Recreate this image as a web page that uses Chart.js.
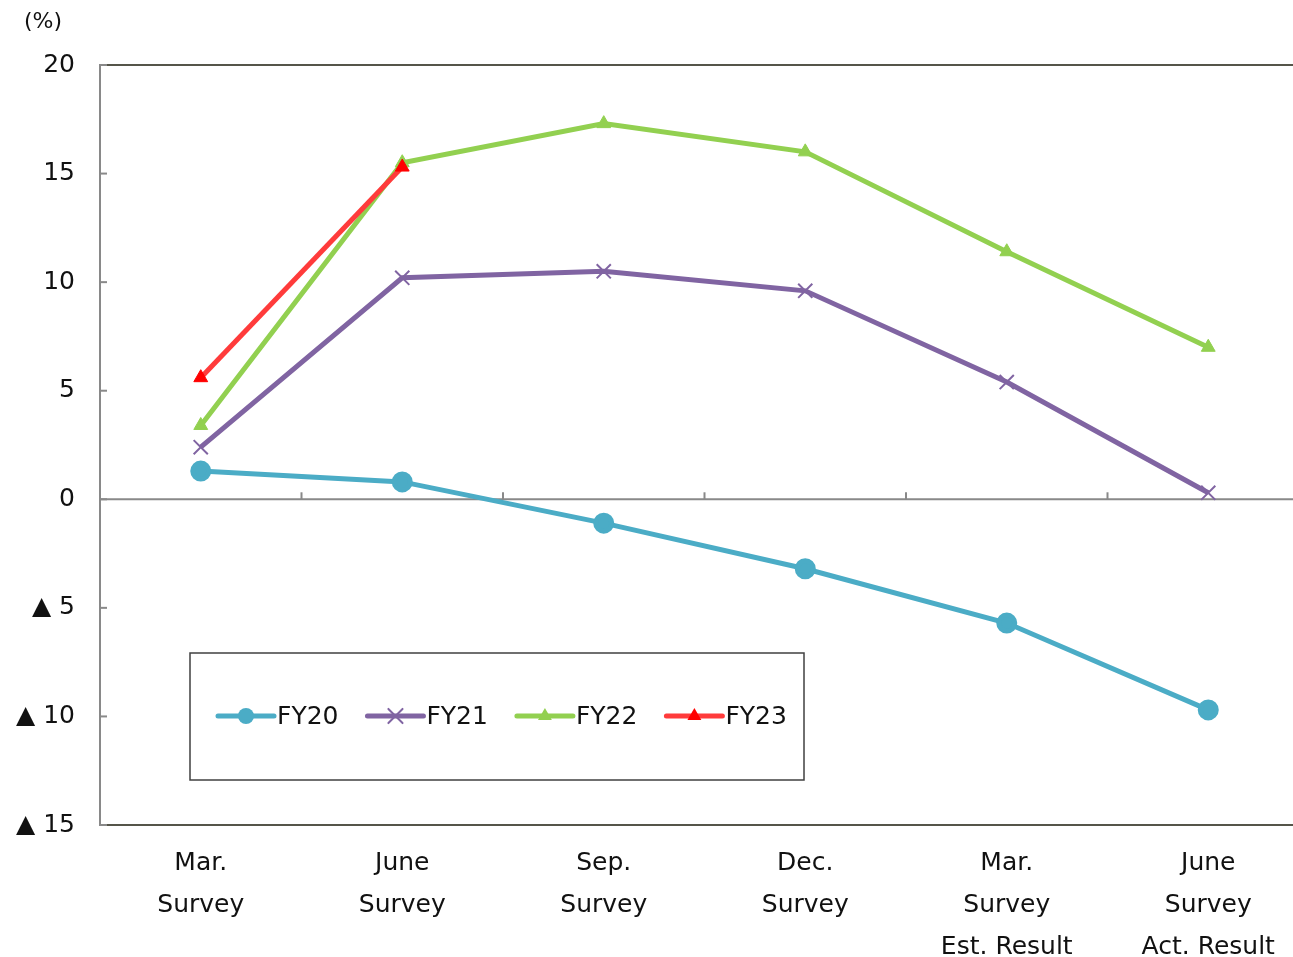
<!DOCTYPE html>
<html lang="en">
<head>
<meta charset="UTF-8" />
<title>Survey results</title>
<script src="https://cdn.jsdelivr.net/npm/chart.js"></script>
<style>
  html, body { margin: 0; padding: 0; background: #ffffff; overflow: hidden; }
  #wrap { position: relative; width: 1322px; height: 957px; }
</style>
</head>
<body>
<div id="wrap"><canvas id="chart" width="1322" height="957"></canvas></div>
<script>
  const categories = [
    ['Mar.', 'Survey'],
    ['June', 'Survey'],
    ['Sep.', 'Survey'],
    ['Dec.', 'Survey'],
    ['Mar.', 'Survey', 'Est. Result'],
    ['June', 'Survey', 'Act. Result'],
  ];
  const fy20 = [1.3, 0.8, -1.1, -3.2, -5.7, -9.7];
  const fy21 = [2.4, 10.2, 10.5, 9.6, 5.4, 0.3];
  const fy22 = [3.4, 15.5, 17.3, 16.0, 11.4, 7.0];
  const fy23 = [5.6, 15.3, null, null, null, null];
  const yMin = -15, yMax = 20, yStep = 5;
  const unitLabel = '(%)';

  const FONT = "'DejaVu Sans', Verdana, sans-serif";

  function drawMarker(ctx, style, x, y, r, color) {
    ctx.save();
    ctx.fillStyle = color;
    ctx.strokeStyle = color;
    ctx.beginPath();
    if (style === 'circle') {
      ctx.arc(x, y, r, 0, Math.PI * 2);
      ctx.fill();
    } else if (style === 'triangle') {
      const side = r * Math.sqrt(3);
      ctx.moveTo(x, y - r);
      ctx.lineTo(x + side / 2, y + r / 2);
      ctx.lineTo(x - side / 2, y + r / 2);
      ctx.closePath();
      ctx.fill();
    } else if (style === 'crossRot') {
      const d = r * Math.cos(Math.PI / 4);
      ctx.lineWidth = 2;
      ctx.moveTo(x - d, y - d); ctx.lineTo(x + d, y + d);
      ctx.moveTo(x + d, y - d); ctx.lineTo(x - d, y + d);
      ctx.stroke();
    }
    ctx.restore();
  }

  const decor = {
    id: 'decor',
    beforeDatasetsDraw(chart) {
      const { ctx, chartArea: a, scales: { x, y } } = chart;
      const seg = (x1, y1, x2, y2) => { ctx.beginPath(); ctx.moveTo(x1, y1); ctx.lineTo(x2, y2); ctx.stroke(); };
      ctx.save();
      // top border
      ctx.strokeStyle = '#55554a';
      ctx.lineWidth = 2;
      seg(a.left, a.top, a.right, a.top);
      // zero line with category ticks
      const y0 = y.getPixelForValue(0);
      ctx.strokeStyle = '#898989';
      seg(a.left, y0, a.right, y0);
      for (let i = 1; i < categories.length; i++) {
        const px = (x.getPixelForValue(i - 1) + x.getPixelForValue(i)) / 2;
        seg(px, y0 - 7, px, y0);
      }
      // inward y ticks
      y.ticks.forEach((t) => {
        const py = y.getPixelForValue(t.value);
        seg(a.left, py, a.left + 7, py);
      });
      ctx.restore();
    },
    afterDraw(chart) {
      const { ctx } = chart;
      ctx.save();
      // unit label
      ctx.fillStyle = '#111111';
      ctx.font = '22px ' + FONT;
      ctx.textBaseline = 'middle';
      ctx.textAlign = 'left';
      ctx.fillText(unitLabel, 24, 22);

      // legend box
      ctx.fillStyle = '#ffffff';
      ctx.fillRect(190, 653, 614, 127);
      ctx.strokeStyle = '#404040';
      ctx.lineWidth = 1.5;
      ctx.strokeRect(190, 653, 614, 127);

      ctx.font = '25px ' + FONT;
      let lx = 218;
      const ly = 716;
      chart.data.datasets.forEach((ds) => {
        ctx.strokeStyle = ds.borderColor;
        ctx.lineWidth = 5;
        ctx.lineCap = 'round';
        ctx.beginPath();
        ctx.moveTo(lx, ly);
        ctx.lineTo(lx + 56, ly);
        ctx.stroke();
        drawMarker(ctx, ds.pointStyle, lx + 28, ly, ds.pointRadius, ds.pointBackgroundColor || ds.borderColor);
        ctx.fillStyle = '#111111';
        ctx.fillText(ds.label, lx + 59, ly + 1);
        lx += 59 + ctx.measureText(ds.label).width + 29;
      });
      ctx.restore();
    },
  };

  new Chart(document.getElementById('chart'), {
    type: 'line',
    data: {
      labels: categories,
      datasets: [
        { label: 'FY20', data: fy20, borderColor: '#4BACC6', pointBackgroundColor: '#4BACC6', pointBorderColor: '#4BACC6',
          pointStyle: 'circle', pointRadius: 8, borderWidth: 5, order: 3 },
        { label: 'FY21', data: fy21, borderColor: '#8064A2', pointBackgroundColor: '#8064A2', pointBorderColor: '#8064A2',
          pointStyle: 'crossRot', pointRadius: 10, pointBorderWidth: 2, borderWidth: 5, order: 2 },
        { label: 'FY22', data: fy22, borderColor: '#92D050', pointBackgroundColor: '#92D050', pointBorderColor: '#92D050',
          pointStyle: 'triangle', pointRadius: 8, pointBorderWidth: 1, borderWidth: 5, order: 1 },
        { label: 'FY23', data: fy23, borderColor: '#FF3B3B', pointBackgroundColor: '#FF0000', pointBorderColor: '#FF0000',
          pointStyle: 'triangle', pointRadius: 8, pointBorderWidth: 1, borderWidth: 5, order: 0 },
      ],
    },
    options: {
      responsive: false,
      devicePixelRatio: 1,
      animation: false,
      layout: { padding: { top: 65, right: 1, left: 0, bottom: 0 } },
      plugins: { legend: { display: false }, title: { display: false }, tooltip: { enabled: false } },
      elements: { line: { tension: 0 } },
      scales: {
        x: {
          offset: true,
          grid: { display: false, drawTicks: false },
          border: { display: true, color: '#55554a', width: 2 },
          ticks: {
            autoSkip: false, maxRotation: 0, padding: 17, color: '#111111',
            font: { family: FONT, size: 25, lineHeight: 1.68 },
          },
          afterFit(s) { s.height = 132; s.paddingLeft = 0; s.paddingRight = 0; },
        },
        y: {
          min: yMin, max: yMax,
          grid: { display: false, drawTicks: false },
          border: { display: true, color: '#898989', width: 2 },
          ticks: {
            stepSize: yStep, padding: 25, color: '#111111',
            font: { family: FONT, size: 25 },
            callback: (v) => (v < 0 ? '\u25B2 ' + (-v) : String(v)),
          },
          afterFit(s) { s.width = 100; },
        },
      },
    },
    plugins: [decor],
  });
</script>
</body>
</html>
